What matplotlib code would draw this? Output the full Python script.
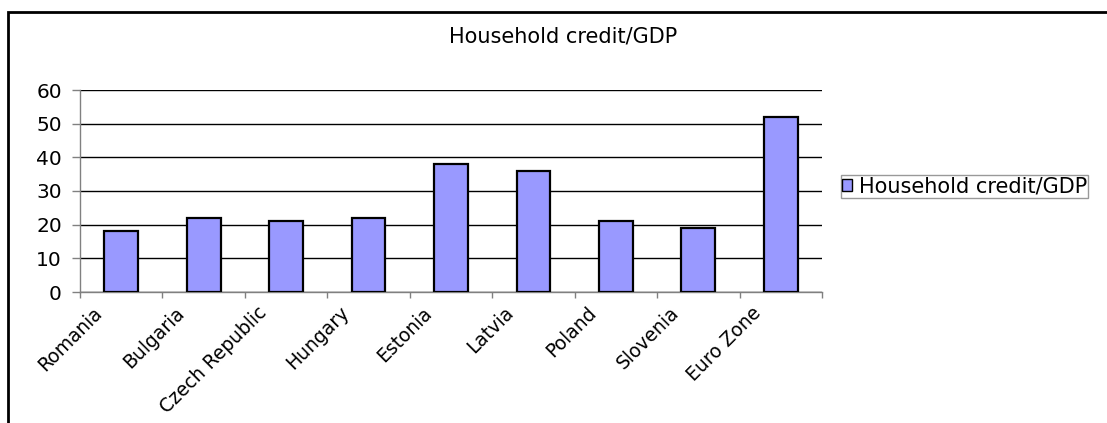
import numpy as np
import matplotlib.pyplot as plt
from matplotlib.patches import Rectangle

# household credit as % of GDP
countries = ["Romania", "Bulgaria", "Czech Republic", "Hungary", "Estonia",
             "Latvia", "Poland", "Slovenia", "Euro Zone"]
credit_gdp = [18, 22, 21, 22, 38, 36, 21, 19, 52]
yticks = [0, 10, 20, 30, 40, 50, 60]

W, H = 1107, 423
fig = plt.figure(figsize=(W / 100, H / 100), dpi=100)
plt.rcParams['font.family'] = ['DejaVu Sans']
fs = 15

# outer chart frame (runs off the right and bottom edges)
fig.patches.append(Rectangle((8 / W, -0.1), 1.2, 1.1 - 12 / H,
                             transform=fig.transFigure, fill=False,
                             edgecolor='black', linewidth=2))

ax = fig.add_axes([80 / W, 1 - 292 / H, (822 - 80) / W, (292 - 90) / H])
x = np.arange(len(countries))
bars = ax.bar(x, credit_gdp, width=0.41, color='#9999FF', edgecolor='black',
              linewidth=1.6, label="Household credit/GDP", zorder=3)

ax.set_xlim(-0.5, len(countries) - 0.5)
ax.set_ylim(0, 60)
ax.set_yticks(yticks)
ax.set_yticklabels([str(v) for v in yticks], fontsize=14.5)
ax.yaxis.grid(True, color='black', linewidth=1, zorder=0)
ax.tick_params(axis='y', length=6, width=1, color='#808080', pad=7)

# ticks sit between categories, labels under each bar
ax.set_xticks(np.arange(len(countries) + 1) - 0.5)
ax.set_xticklabels([])
ax.tick_params(axis='x', length=4, width=1, color='#808080')
for i, name in enumerate(countries):
    ax.annotate(name, xy=(i, 0), xytext=(-21, -8), textcoords='offset points',
                rotation=45, rotation_mode='anchor', ha='right', va='top',
                fontsize=13.5)

for side in ['top', 'right']:
    ax.spines[side].set_visible(False)
for side in ['left', 'bottom']:
    ax.spines[side].set_color('#808080')
    ax.spines[side].set_linewidth(1)

fig.text(563 / W, 1 - 36 / H, "Household credit/GDP", ha='center',
         va='center', fontsize=fs)

leg = fig.legend(loc='center left', bbox_to_anchor=(841 / W, 1 - 186.5 / H),
                 fontsize=fs, frameon=True, fancybox=False, handlelength=0.5,
                 handleheight=0.5, handletextpad=0.3, borderpad=0.05,
                 borderaxespad=0)
leg.get_frame().set_edgecolor('#808080')
leg.get_frame().set_linewidth(1)
for h in leg.legend_handles:
    h.set_linewidth(1)

fig.savefig("out.png", dpi=100)
